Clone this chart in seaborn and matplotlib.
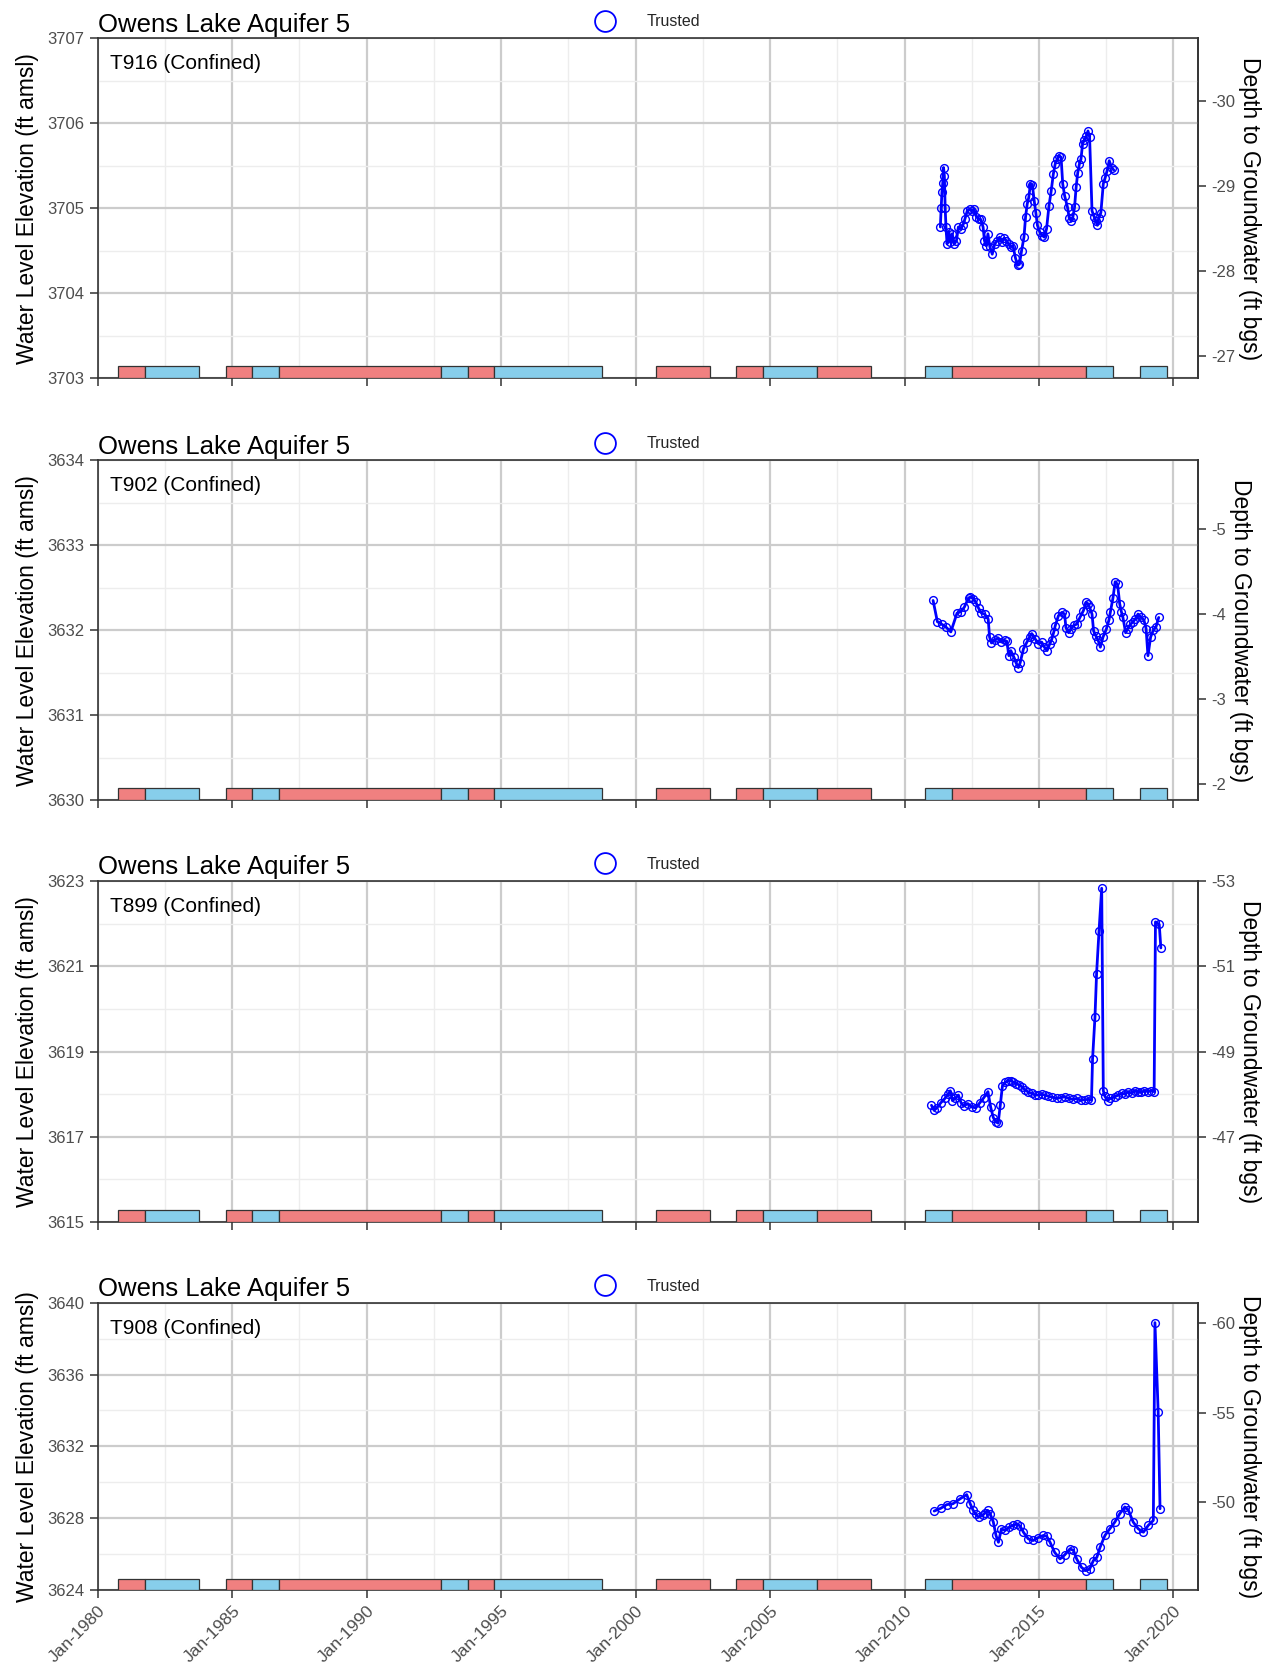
import matplotlib
matplotlib.use("Agg")
import matplotlib.pyplot as plt
import seaborn as sns
from matplotlib.lines import Line2D
from matplotlib.ticker import FixedLocator

sns.set_theme(style="white")
plt.rcParams["font.family"] = ["Liberation Sans", "DejaVu Sans"]
plt.rcParams["axes.unicode_minus"] = False

# ---------------- data ----------------
chart_title = "Owens Lake Aquifer 5"
legend_label = "Trusted"

x_tick_years = [1980, 1985, 1990, 1995, 2000, 2005, 2010, 2015, 2020]
x_tick_labels = ["Jan-1980", "Jan-1985", "Jan-1990", "Jan-1995", "Jan-2000",
                 "Jan-2005", "Jan-2010", "Jan-2015", "Jan-2020"]

# runoff-year classification bars (water years)
period_start = [1980.75, 1981.75, 1984.75, 1985.75, 1986.75, 1992.75, 1993.75, 1994.75,
                2000.75, 2003.75, 2004.75, 2006.75, 2010.75, 2011.75, 2016.75, 2018.75]
period_end = [1981.75, 1983.75, 1985.75, 1986.75, 1992.75, 1993.75, 1994.75, 1998.75,
              2002.75, 2004.75, 2006.75, 2008.75, 2011.75, 2016.75, 2017.75, 2019.75]
period_class = ["Dry", "Wet", "Dry", "Wet", "Dry", "Wet", "Dry", "Wet",
                "Dry", "Dry", "Wet", "Dry", "Wet", "Dry", "Wet", "Wet"]

well_labels = ["T916 (Confined)", "T902 (Confined)", "T899 (Confined)", "T908 (Confined)"]

t916_year = [2011.33, 2011.36, 2011.39, 2011.42, 2011.45, 2011.48, 2011.51, 2011.54, 2011.58,
             2011.65, 2011.70, 2011.77, 2011.85, 2011.93, 2012.00, 2012.08, 2012.17, 2012.25,
             2012.33, 2012.42, 2012.50, 2012.58, 2012.67, 2012.75, 2012.83, 2012.92, 2012.97,
             2013.03, 2013.10, 2013.17, 2013.26, 2013.35, 2013.45, 2013.53, 2013.62, 2013.70,
             2013.78, 2013.87, 2013.95, 2014.03, 2014.12, 2014.20, 2014.27, 2014.35, 2014.44,
             2014.50, 2014.56, 2014.62, 2014.68, 2014.75, 2014.82, 2014.88, 2014.94, 2015.03,
             2015.12, 2015.20, 2015.28, 2015.37, 2015.45, 2015.53, 2015.60, 2015.68, 2015.75,
             2015.82, 2015.88, 2015.95, 2016.06, 2016.12, 2016.20, 2016.26, 2016.32, 2016.38,
             2016.44, 2016.50, 2016.56, 2016.62, 2016.68, 2016.76, 2016.82, 2016.88, 2016.97,
             2017.05, 2017.11, 2017.17, 2017.23, 2017.30, 2017.39, 2017.46, 2017.53, 2017.61,
             2017.70, 2017.78]
t916_elev = [3704.78, 3705.00, 3705.19, 3705.30, 3705.48, 3705.38, 3705.00, 3704.78, 3704.58,
             3704.72, 3704.60, 3704.70, 3704.58, 3704.62, 3704.78, 3704.76, 3704.80, 3704.88,
             3704.97, 3704.99, 3704.97, 3704.99, 3704.90, 3704.88, 3704.87, 3704.78, 3704.62,
             3704.56, 3704.70, 3704.55, 3704.46, 3704.58, 3704.62, 3704.66, 3704.60, 3704.65,
             3704.62, 3704.58, 3704.55, 3704.56, 3704.42, 3704.33, 3704.34, 3704.50, 3704.66,
             3704.90, 3705.05, 3705.13, 3705.29, 3705.28, 3705.09, 3704.95, 3704.80, 3704.72,
             3704.68, 3704.66, 3704.76, 3705.03, 3705.20, 3705.40, 3705.52, 3705.58, 3705.62,
             3705.60, 3705.29, 3705.15, 3705.01, 3704.89, 3704.85, 3704.90, 3705.01, 3705.25,
             3705.42, 3705.52, 3705.58, 3705.76, 3705.80, 3705.85, 3705.91, 3705.84, 3704.97,
             3704.90, 3704.85, 3704.80, 3704.89, 3704.95, 3705.29, 3705.36, 3705.44, 3705.56,
             3705.48, 3705.45]

t902_year = [2011.06, 2011.22, 2011.38, 2011.53, 2011.72, 2011.95, 2012.10, 2012.22, 2012.38,
             2012.45, 2012.55, 2012.65, 2012.75, 2012.86, 2012.98, 2013.11, 2013.16, 2013.23,
             2013.35, 2013.48, 2013.60, 2013.72, 2013.80, 2013.88, 2013.95, 2014.07, 2014.14,
             2014.23, 2014.30, 2014.42, 2014.55, 2014.65, 2014.73, 2014.85, 2014.98, 2015.10,
             2015.20, 2015.30, 2015.40, 2015.47, 2015.55, 2015.60, 2015.72, 2015.85, 2015.95,
             2016.00, 2016.10, 2016.20, 2016.30, 2016.40, 2016.52, 2016.65, 2016.75, 2016.82,
             2016.88, 2016.97, 2017.03, 2017.12, 2017.20, 2017.28, 2017.38, 2017.50, 2017.60,
             2017.65, 2017.75, 2017.83, 2017.92, 2018.00, 2018.06, 2018.12, 2018.22, 2018.30,
             2018.40, 2018.50, 2018.58, 2018.68, 2018.80, 2018.90, 2018.98, 2019.05, 2019.15,
             2019.25, 2019.35, 2019.45]
t902_elev = [3632.35, 3632.10, 3632.07, 3632.04, 3631.98, 3632.20, 3632.22, 3632.27, 3632.38,
             3632.39, 3632.37, 3632.33, 3632.26, 3632.20, 3632.19, 3632.13, 3631.92, 3631.85,
             3631.88, 3631.91, 3631.86, 3631.88, 3631.87, 3631.70, 3631.76, 3631.68, 3631.62,
             3631.56, 3631.62, 3631.78, 3631.86, 3631.92, 3631.96, 3631.90, 3631.84, 3631.86,
             3631.80, 3631.76, 3631.84, 3631.89, 3631.98, 3632.05, 3632.17, 3632.21, 3632.19,
             3632.03, 3631.97, 3632.02, 3632.06, 3632.07, 3632.15, 3632.23, 3632.33, 3632.31,
             3632.27, 3632.19, 3631.99, 3631.93, 3631.88, 3631.80, 3631.92, 3632.01, 3632.12,
             3632.21, 3632.38, 3632.57, 3632.54, 3632.31, 3632.22, 3632.15, 3631.97, 3632.02,
             3632.07, 3632.10, 3632.13, 3632.19, 3632.15, 3632.12, 3632.02, 3631.70, 3631.92,
             3632.00, 3632.04, 3632.15]

t899_year = [2011.00, 2011.10, 2011.20, 2011.35, 2011.50, 2011.62, 2011.70, 2011.78, 2011.88,
             2012.00, 2012.10, 2012.20, 2012.35, 2012.50, 2012.65, 2012.80, 2012.95, 2013.10,
             2013.20, 2013.30, 2013.40, 2013.48, 2013.56, 2013.64, 2013.75, 2013.85, 2013.95,
             2014.05, 2014.15, 2014.25, 2014.35, 2014.48, 2014.60, 2014.72, 2014.85, 2014.98,
             2015.10, 2015.22, 2015.35, 2015.50, 2015.65, 2015.80, 2015.97, 2016.10, 2016.25,
             2016.40, 2016.55, 2016.70, 2016.83, 2016.95, 2016.99, 2017.08, 2017.14, 2017.23,
             2017.33, 2017.39, 2017.45, 2017.55, 2017.65, 2017.82, 2017.95, 2018.10, 2018.20,
             2018.32, 2018.45, 2018.55, 2018.69, 2018.80, 2018.92, 2019.06, 2019.18, 2019.28,
             2019.33, 2019.47, 2019.53]
t899_elev = [3617.74, 3617.62, 3617.68, 3617.80, 3617.90, 3618.00, 3618.08, 3617.85, 3617.90,
             3617.98, 3617.80, 3617.72, 3617.78, 3617.70, 3617.68, 3617.80, 3617.92, 3618.06,
             3617.70, 3617.45, 3617.35, 3617.32, 3617.75, 3618.20, 3618.28, 3618.32, 3618.32,
             3618.28, 3618.25, 3618.22, 3618.18, 3618.10, 3618.05, 3618.02, 3617.98, 3617.98,
             3618.00, 3617.98, 3617.95, 3617.93, 3617.90, 3617.92, 3617.94, 3617.90, 3617.88,
             3617.90, 3617.86, 3617.87, 3617.88, 3617.86, 3618.82, 3619.81, 3620.83, 3621.82,
             3622.83, 3618.08, 3617.95, 3617.85, 3617.90, 3617.94, 3617.98, 3618.02, 3618.00,
             3618.06, 3618.02, 3618.08, 3618.06, 3618.04, 3618.08, 3618.06, 3618.08, 3618.06,
             3622.04, 3621.98, 3621.43]

t908_year = [2011.10, 2011.35, 2011.57, 2011.80, 2012.07, 2012.31, 2012.44, 2012.55, 2012.65,
             2012.75, 2012.90, 2013.00, 2013.09, 2013.18, 2013.30, 2013.40, 2013.49, 2013.60,
             2013.74, 2013.90, 2014.05, 2014.17, 2014.30, 2014.42, 2014.60, 2014.79, 2014.95,
             2015.16, 2015.28, 2015.41, 2015.58, 2015.78, 2015.95, 2016.15, 2016.28, 2016.40,
             2016.58, 2016.73, 2016.88, 2017.02, 2017.15, 2017.27, 2017.45, 2017.63, 2017.82,
             2018.00, 2018.19, 2018.32, 2018.50, 2018.69, 2018.88, 2019.06, 2019.25, 2019.31,
             2019.43, 2019.50]
t908_elev = [3628.39, 3628.55, 3628.75, 3628.80, 3629.08, 3629.31, 3628.80, 3628.43, 3628.20,
             3628.06, 3628.15, 3628.30, 3628.43, 3628.25, 3627.78, 3627.03, 3626.65, 3627.40,
             3627.31, 3627.50, 3627.60, 3627.68, 3627.55, 3627.21, 3626.84, 3626.75, 3626.90,
             3627.03, 3627.00, 3626.65, 3626.09, 3625.72, 3625.94, 3626.28, 3626.20, 3625.72,
             3625.25, 3625.07, 3625.15, 3625.63, 3625.81, 3626.37, 3627.03, 3627.40, 3627.78,
             3628.24, 3628.62, 3628.45, 3627.78, 3627.40, 3627.21, 3627.59, 3627.87, 3638.90,
             3633.94, 3628.52]

# y axis set-up per well: limits, left ticks, reference offset (depth = ref - elev), right ticks
y_limits = [(3703, 3707), (3630, 3634), (3615, 3623), (3624, 3640)]
y_ticks = [[3703, 3704, 3705, 3706, 3707],
           [3630, 3631, 3632, 3633, 3634],
           [3615, 3617, 3619, 3621, 3623],
           [3624, 3628, 3632, 3636, 3640]]
depth_ref = [3676.26, 3628.19, 3570.0, 3578.87]
depth_ticks = [[-30, -29, -28, -27], [-5, -4, -3, -2], [-53, -51, -49, -47], [-60, -55, -50]]

series_years = [t916_year, t902_year, t899_year, t908_year]
series_elev = [t916_elev, t902_elev, t899_elev, t908_elev]

# ---------------- styling ----------------
W, H = 1271, 1666
fig = plt.figure(figsize=(W / 100, H / 100), dpi=100)
left_px, right_px = 97.8, 1197.7
panel_px = [(38.3, 378.3), (460.2, 800.2), (881.0, 1222.1), (1302.9, 1589.8)]
class_colors = {"Dry": "#F08080", "Wet": "#87CEEB"}
line_blue = "#0000FF"
dark = "#333333"
tick_grey = "#4D4D4D"

for i in range(4):
    top, bot = panel_px[i]
    ax = fig.add_axes([left_px / W, 1 - bot / H, (right_px - left_px) / W, (bot - top) / H])
    ymin, ymax = y_limits[i]
    bar_h = 0.036 * (ymax - ymin)

    for s, e, c in zip(period_start, period_end, period_class):
        ax.bar(s, bar_h, width=e - s, bottom=ymin, align="edge",
               color=class_colors[c], edgecolor=dark, linewidth=0.9, zorder=3)

    sns.lineplot(x=series_years[i], y=series_elev[i], ax=ax, color=line_blue,
                 linewidth=2.0, marker="o", markersize=5.6, markerfacecolor="none",
                 markeredgecolor=line_blue, markeredgewidth=1.0,
                 estimator=None, sort=False, legend=False, zorder=4)

    ax.set_xlim(1980, 2020.9)
    ax.set_ylim(ymin, ymax)

    ax.set_xticks(x_tick_years)
    if i == 3:
        ax.set_xticklabels(x_tick_labels, rotation=45, ha="right", rotation_mode="anchor")
    else:
        ax.set_xticklabels([])
    ax.xaxis.set_minor_locator(FixedLocator([y + 2.5 for y in x_tick_years[:-1]]))
    ax.set_yticks(y_ticks[i])
    yt = y_ticks[i]
    ax.yaxis.set_minor_locator(FixedLocator([(a + b) / 2 for a, b in zip(yt[:-1], yt[1:])]))

    ax.grid(which="major", color="#CCCCCC", linewidth=1.6)
    ax.grid(which="minor", color="#EDEDED", linewidth=1.0)
    ax.set_axisbelow(True)

    for sp in ax.spines.values():
        sp.set_visible(True)
        sp.set_color(dark)
        sp.set_linewidth(1.2)

    ax.tick_params(which="major", direction="out", length=5.5, width=1.1, color=dark,
                   labelcolor=tick_grey, pad=4, bottom=True, left=True)
    ax.tick_params(axis="y", labelsize=12)
    ax.tick_params(axis="x", labelsize=12.5)
    ax.tick_params(which="minor", length=0)

    ax.set_xlabel("")
    ax.set_ylabel("Water Level Elevation (ft amsl)", fontsize=16.5, color="black", labelpad=6)

    ref = depth_ref[i]
    sec = ax.secondary_yaxis("right", functions=(lambda e, r=ref: r - e, lambda d, r=ref: r - d))
    sec.set_yticks(depth_ticks[i])
    sec.tick_params(direction="out", length=5.5, width=1.1, color=dark,
                    labelcolor=tick_grey, labelsize=12, pad=4)
    for sp in sec.spines.values():
        sp.set_color(dark)
        sp.set_linewidth(1.2)
    sec.set_ylabel("Depth to Groundwater (ft bgs)", rotation=270, va="bottom",
                   fontsize=16.5, color="black", labelpad=2)

    ax.set_title(chart_title, loc="left", fontsize=18.5, pad=4.7, color="black")
    ax.annotate(well_labels[i], xy=(0, 1), xycoords="axes fraction", xytext=(8.8, -18.4),
                textcoords="offset points", ha="left", va="center", fontsize=15, color="black")

    handle = Line2D([], [], ls="", marker="o", markersize=15, markerfacecolor="none",
                    markeredgecolor=line_blue, markeredgewidth=1.3)
    ax.legend(handles=[handle], labels=[legend_label], loc="center left",
              bbox_to_anchor=(591.9 / W, 1 - (top - 16.5) / H), bbox_transform=fig.transFigure,
              frameon=False, fontsize=11.5, handlelength=1.6, handletextpad=1.83,
              borderpad=0, borderaxespad=0)

fig.savefig("out.png", dpi=100)
